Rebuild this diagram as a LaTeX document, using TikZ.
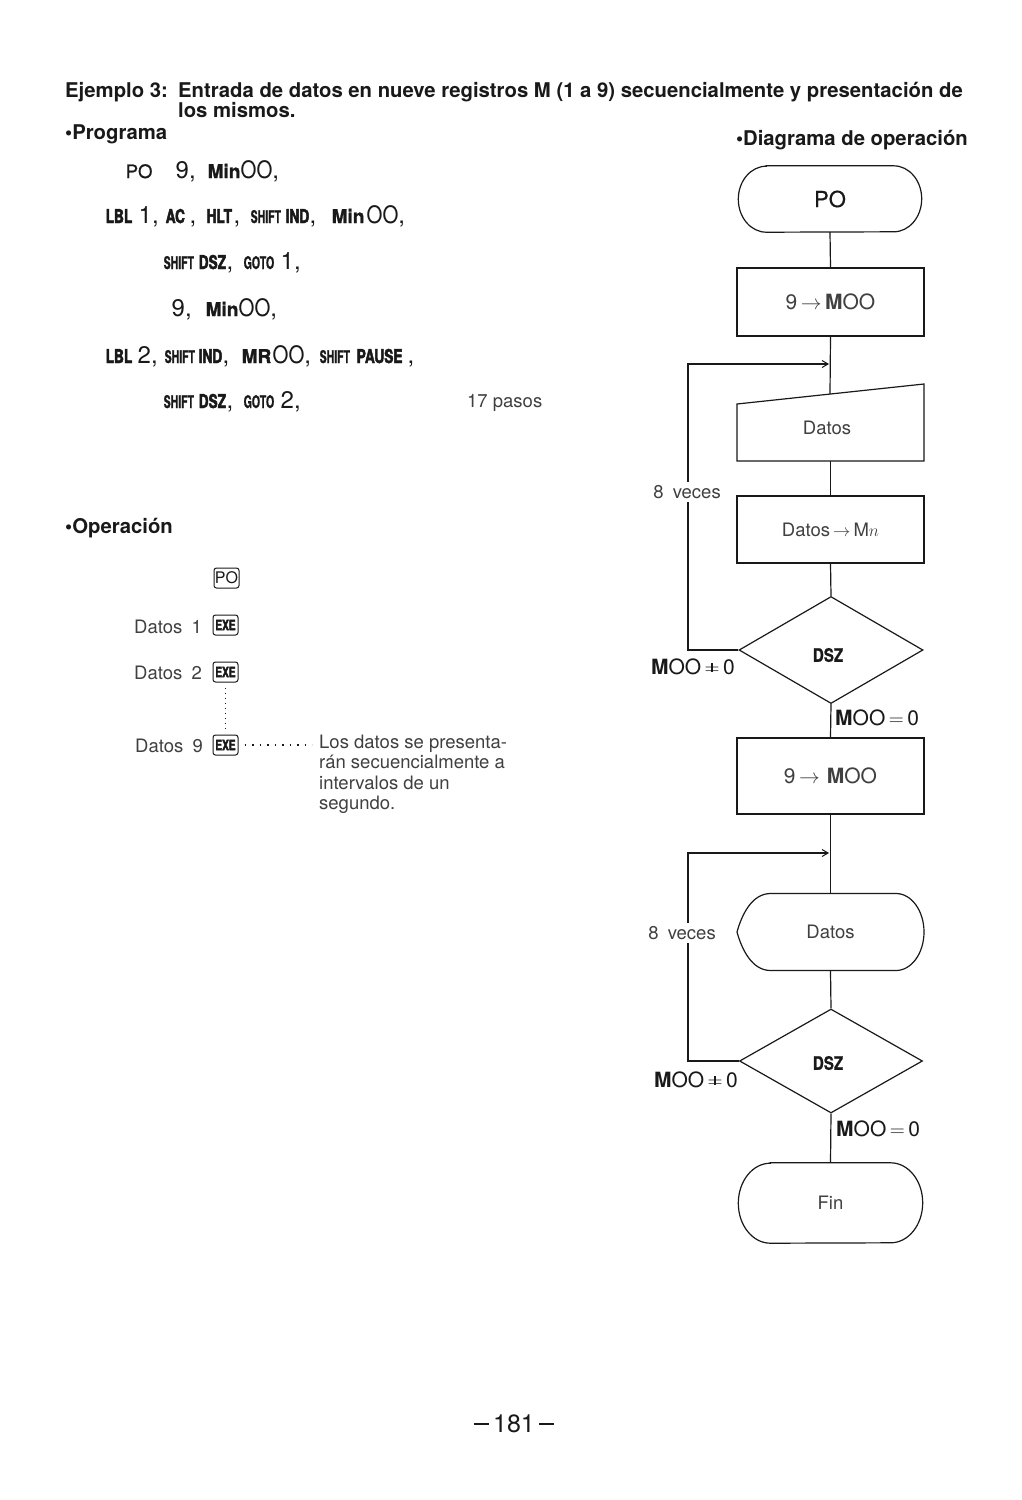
\documentclass[tikz,border=0pt]{standalone}
\usepackage{fontspec}
\setmainfont{TeX Gyre Heros}
\newfontfamily\nar[FakeStretch=0.85]{TeX Gyre Heros}
\newfontfamily\cnd[FakeStretch=0.6,FakeBold=1]{TeX Gyre Heros}
\newfontfamily\hvy[FakeStretch=0.72,FakeBold=2.5]{TeX Gyre Heros}
\newfontfamily\mnf[FakeBold=1.5]{TeX Gyre Heros}
\newfontfamily\dszf[FakeStretch=0.82,FakeBold=1]{TeX Gyre Heros}
\newfontfamily\med[FakeBold=0.6]{TeX Gyre Heros}
\usetikzlibrary{shapes.geometric,arrows.meta}
\definecolor{ink}{gray}{0.1}
\definecolor{lite}{gray}{0.25}
\newcommand\K[1]{{\hvy\bfseries\fontsize{19}{19}\selectfont #1}}
\newcommand\sft[1]{{\cnd\bfseries\fontsize{17.5}{17.5}\selectfont #1}}
\newcommand\dg[1]{{\fontsize{24}{24}\selectfont #1}}
\newcommand\oo{{\nar\fontsize{24}{24}\selectfont OO}}
\newcommand\mn[1]{{\mnf\bfseries\fontsize{19}{19}\selectfont #1}}
\newcommand\ac[1]{{\hvy\bfseries\fontsize{19}{19}\selectfont #1}}
\newcommand\at[2]{\makebox[0pt][l]{\hspace{#1pt}#2}}
\newcommand\fc{\fontsize{21}{21}\selectfont}
\newcommand\bx{\fontsize{18.5}{18.5}\selectfont}
\newcommand\neqsym{\ooalign{$=$\cr\hidewidth\rule[0.12em]{0.07em}{0.42em}\hidewidth\cr}}
\tikzset{
  line/.style={draw=ink,line width=1.2pt},
  arr/.style={line,-{Straight Barb[length=6pt,width=7pt,line width=1pt]}},
  proc/.style={draw=ink,line width=1.2pt,rectangle,inner sep=0pt,text=lite},
  ghost/.style={rectangle,inner sep=0pt,text=lite},
  dia/.style={draw=ink,line width=1.2pt,diamond,inner sep=0pt},
  hd/.style={anchor=base west,inner sep=0pt,text=ink,font=\bfseries\fontsize{20.3}{20.3}\selectfont},
  pg/.style={anchor=base west,inner sep=0pt,text=ink},
  body/.style={anchor=base west,inner sep=0pt,text=lite,font=\bx},
  keybox/.style={draw=ink,line width=1pt,rounded corners=2.5pt,inner sep=0pt,minimum width=25pt,minimum height=20pt,text=ink},
  exe/.style={keybox,font=\hvy\bfseries\fontsize{14}{14}\selectfont},
  lbl/.style={inner sep=0pt,text=ink,font=\fc},
  dsz/.style={inner sep=0pt,text=ink,font=\dszf\bfseries\fontsize{18.5}{18.5}\selectfont},
  veces/.style={fill=white,inner sep=3pt,text=lite,font=\bx},
}
\begin{document}
\begin{tikzpicture}[x=1pt,y=-1pt]
\useasboundingbox[fill=white] (0,0) rectangle (1022,1500);
% header
\node[hd] (h1) at (65,97) {Ejemplo 3:};
\node[hd] (h2) at (178,97) {Entrada de datos en nueve registros M (1 a 9) secuencialmente y presentación de};
\node[hd] (h3) at (178,117) {los mismos.};
\node[hd] (h4) at (65,139) {\textbullet Programa};
\node[hd,anchor=base east] (h5) at (968,145) {\textbullet Diagrama de operación};
% program
\node[pg] (p1) at (125,178) {\at{0}{\med\fontsize{18.5}{18.5}\selectfont PO}\at{50}{\dg{9,}}\at{82}{\mn{Min}}\at{115}{\oo\dg{,}}};
\node[pg] (p2) at (105,223) {\at{0}{\K{LBL}}\at{33}{\dg{1,}}\at{60}{\ac{AC}}\at{84}{\dg{,}}\at{101}{\K{HLT}}\at{128}{\dg{,}}\at{145}{\sft{SHIFT}}\at{180}{\K{IND}}\at{204}{\dg{,}}\at{226}{\mn{Min}}\at{261}{\oo\dg{,}}};
\node[pg] (p3) at (163,269) {\at{0}{\sft{SHIFT}}\at{35}{\K{DSZ}}\at{63}{\dg{,}}\at{80}{\sft{GOTO}}\at{117}{\dg{1,}}};
\node[pg] (p4) at (171,316) {\at{0}{\dg{9,}}\at{34}{\mn{Min}}\at{67}{\oo\dg{,}}};
\node[pg] (p5) at (105,363) {\at{0}{\K{LBL}}\at{32}{\dg{2,}}\at{59}{\sft{SHIFT}}\at{93}{\K{IND}}\at{117}{\dg{,}}\at{136}{\mn{MR}}\at{167}{\oo\dg{,}}\at{214}{\sft{SHIFT}}\at{251}{\K{PAUSE}}\at{302}{\dg{,}}};
\node[pg] (p6) at (163,408) {\at{0}{\sft{SHIFT}}\at{35}{\K{DSZ}}\at{63}{\dg{,}}\at{80}{\sft{GOTO}}\at{117}{\dg{2,}}};
\node[body] (pasos) at (467,407) {17 pasos};
% operation
\node[hd] (op) at (65,533) {\textbullet Operación};
\node[keybox,font=\fontsize{16}{16}\selectfont] (kpo) at (226.5,578) {PO};
\node[body] (d1t) at (134,633) {Datos\enspace 1};
\node[exe] (k1) at (225.5,625) {EXE};
\node[body] (d2t) at (134,679) {Datos\enspace 2};
\node[exe] (k2) at (225.5,672) {EXE};
\node[body] (d9t) at (135,752) {Datos\enspace 9};
\node[exe] (k9) at (225.5,745) {EXE};
\draw[ink,line width=1pt,dash pattern=on 1pt off 4pt,shorten <=5pt,shorten >=5pt] (k2.south) -- (k9.north);
\node[body] (n1) at (319,748) {Los datos se presenta-};
\node[body] (n2) at (319,768.5) {rán secuencialmente a};
\node[body] (n3) at (319,789) {intervalos de un};
\node[body] (n4) at (319,809.5) {segundo.};
\coordinate (dl) at (312,745);
\draw[ink,line width=1.8pt,dash pattern=on 1.8pt off 5.7pt,shorten <=6pt] (k9.east) -- (dl);
% flowchart
\node[ghost,minimum width=183pt,minimum height=66pt,font=\med\fontsize{22}{22}\selectfont,text=ink] (t1) at (830,199) {PO};
\draw[line] ([xshift=28pt]t1.north west) -- ([xshift=-28pt]t1.north east)
  arc[start angle=90,end angle=-90,x radius=28pt,y radius=33pt] -- ([xshift=28pt]t1.south west)
  arc[start angle=270,end angle=90,x radius=28pt,y radius=33pt] -- cycle;
\node[proc,minimum width=187pt,minimum height=68pt,font=\fc] (b1) at (830.5,302) {9\,$\rightarrow$\,{\bfseries M}OO};
\node[ghost,minimum width=187pt,minimum height=77pt,font=\bx] (in1) at (830.5,422.5) {};
\node[ghost,font=\bx] (in1txt) at (827,428) {Datos};
\draw[line] (737,404) -- (924,384) -- (924,461) -- (737,461) -- cycle;
\coordinate (in1t) at (830,394);
\node[proc,minimum width=187pt,minimum height=67pt,font=\bx] (b2) at (830.5,529.5) {Datos\,$\rightarrow$\,M$n$};
\node[dia,minimum width=184pt,minimum height=107pt] (d1) at (831,650) {};
\node[dsz] (dsz1) at (828,655) {DSZ};
\node[proc,minimum width=187pt,minimum height=76pt,font=\fc] (b3) at (830.5,776) {9\,$\rightarrow$\,\,{\bfseries M}OO};
\node[ghost,minimum width=187pt,minimum height=77pt,font=\bx] (disp) at (830.5,932) {Datos};
\draw[line] (770,893.5) -- (896,893.5) arc[start angle=90,end angle=-90,x radius=28pt,y radius=38.5pt]
  -- (770,970.5) .. controls (752,970) and (742,950) .. (737,932)
  .. controls (742,914) and (752,894) .. (770,893.5) -- cycle;
\node[dia,minimum width=183pt,minimum height=104pt] (d2) at (831,1061) {};
\node[dsz] (dsz2) at (828,1063) {DSZ};
\node[ghost,minimum width=184pt,minimum height=80pt,font=\bx] (fin) at (830.5,1203) {Fin};
\draw[line] ([xshift=32pt]fin.north west) -- ([xshift=-32pt]fin.north east)
  arc[start angle=90,end angle=-90,x radius=32pt,y radius=40pt] -- ([xshift=32pt]fin.south west)
  arc[start angle=270,end angle=90,x radius=32pt,y radius=40pt] -- cycle;
% connectors
\coordinate (c1) at (688,364);
\coordinate (j1) at (829,364);
\coordinate (c2) at (688,853);
\coordinate (j2) at (829,853);
\draw[line] (t1.south) -- (b1.north);
\draw[line] (b1.south) -- (in1t);
\draw[line] (in1.south) -- (b2.north);
\draw[line] (b2.south) -- (d1.north);
\draw[arr] (d1.west) -| (c1) -- (j1);
\draw[line] (d1.south) -- (b3.north);
\draw[line] (b3.south) -- (disp.north);
\draw[line] (disp.south) -- (d2.north);
\draw[arr] (d2.west) -| (c2) -- (j2);
\draw[line] (d2.south) -- (fin.north);
% labels
\node[veces] (v1) at (687,492) {8\enspace veces};
\node[veces] (v2) at (682,933) {8\enspace veces};
\node[lbl,anchor=east] (ne1) at (735,667) {{\bfseries M}OO\,\neqsym\,0};
\node[lbl,anchor=west] (eq1) at (835,718) {{\bfseries M}OO\,$=$\,0};
\node[lbl,anchor=east] (ne2) at (738,1080) {{\bfseries M}OO\,\neqsym\,0};
\node[lbl,anchor=west] (eq2) at (836,1129) {{\bfseries M}OO\,$=$\,0};
% page number
\node[inner sep=0pt,text=ink,font=\fontsize{25}{25}\selectfont] (pgno) at (514,1424) {\rule[0.3em]{0.6em}{0.07em}\,181\,\rule[0.3em]{0.6em}{0.07em}};
\end{tikzpicture}
\end{document}
